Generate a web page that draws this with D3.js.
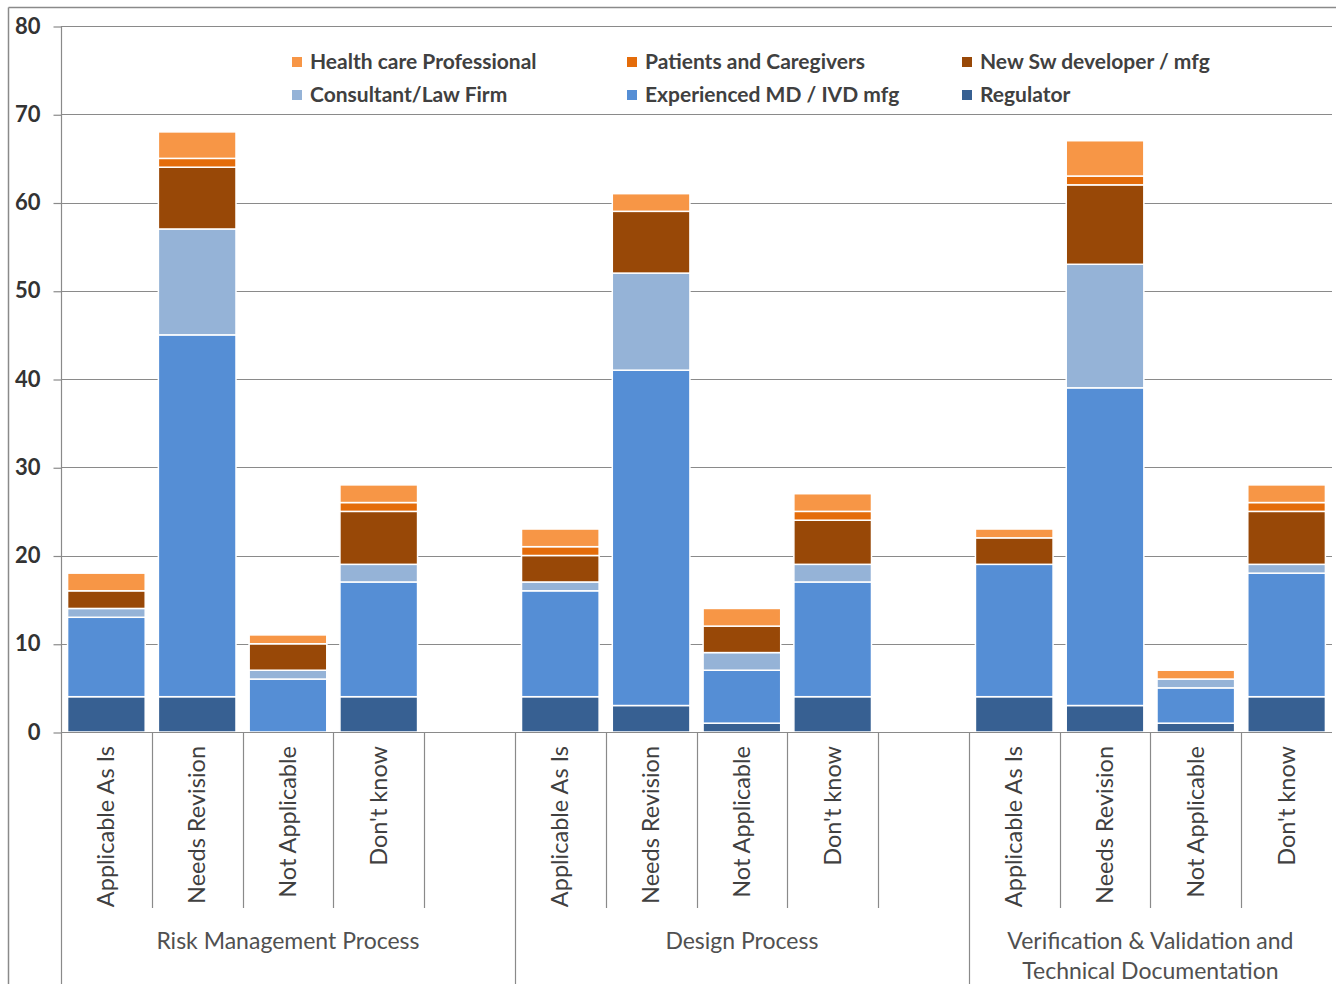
<!DOCTYPE html>
<html>
<head>
<meta charset="utf-8">
<script src="https://cdn.jsdelivr.net/npm/d3@7"></script>
<style>
  html, body { margin: 0; padding: 0; background: #fff; }
  svg { display: block; }
</style>
</head>
<body>
<svg id="chart" width="1336" height="984"></svg>
<script>
// ---- data ----
const groups = ["Risk Management Process", "Design Process", "Verification & Validation and|Technical Documentation"];
const responses = ["Applicable As Is", "Needs Revision", "Not Applicable", "Don't know"];
const seriesNames = ["Regulator", "Experienced MD / IVD mfg", "Consultant/Law Firm", "New Sw developer / mfg", "Patients and Caregivers", "Health care Professional"];
const regulator   = [4, 4, 0, 4,   4, 3, 1, 4,   4, 3, 1, 4];
const experienced = [9, 41, 6, 13, 12, 38, 6, 13, 15, 36, 4, 14];
const consultant  = [1, 12, 1, 2,  1, 11, 2, 2,  0, 14, 1, 1];
const newSw       = [2, 7, 3, 6,   3, 7, 3, 5,   3, 9, 0, 6];
const patients    = [0, 1, 0, 1,   1, 0, 0, 1,   0, 1, 0, 1];
const hcp         = [2, 3, 1, 2,   2, 2, 2, 2,   1, 4, 1, 2];
const yTicks = [0, 10, 20, 30, 40, 50, 60, 70, 80];
const legendOrder = ["Health care Professional", "Patients and Caregivers", "New Sw developer / mfg",
                     "Consultant/Law Firm", "Experienced MD / IVD mfg", "Regulator"];
const colors = ["#376092", "#558ED5", "#95B3D7", "#984807", "#E46C0A", "#F79646"];

(function () {
// ---- build table ----
const seriesValues = [regulator, experienced, consultant, newSw, patients, hcp];
const rows = [];
groups.forEach((g, gi) => {
  responses.forEach((r, ri) => {
    const row = { key: gi + "-" + ri, group: gi, response: r };
    seriesNames.forEach((s, si) => { row[s] = seriesValues[si][gi * responses.length + ri]; });
    rows.push(row);
  });
});
// slot keys: 4 responses + blank slot for first two groups
const slots = [];
groups.forEach((g, gi) => {
  responses.forEach((r, ri) => slots.push(gi + "-" + ri));
  if (gi < groups.length - 1) slots.push(gi + "-blank");
});

const svg = d3.select("#chart");
const pLeft = 61, pRight = 1332, pTop = 26, pBottom = 732;
const x = d3.scaleBand().domain(slots).range([pLeft, pRight]).paddingInner(0).paddingOuter(0);
const y = d3.scaleLinear().domain([0, 80]).range([pBottom, pTop]);
const color = d3.scaleOrdinal().domain(seriesNames).range(colors);
const gridColor = "#8a8a8a";

// outer border
svg.append("line").attr("x1", 8.5).attr("x2", 1336).attr("y1", 7.5).attr("y2", 7.5)
  .attr("stroke", "#8a8a8a").attr("stroke-width", 1.5);
svg.append("line").attr("x1", 8.5).attr("x2", 8.5).attr("y1", 7.5).attr("y2", 984)
  .attr("stroke", "#8a8a8a").attr("stroke-width", 1.5);

// gridlines
svg.append("g").selectAll("line").data(yTicks.filter(d => d > 0)).join("line")
  .attr("x1", pLeft).attr("x2", pRight)
  .attr("y1", d => Math.round(y(d)) + 0.5).attr("y2", d => Math.round(y(d)) + 0.5)
  .attr("stroke", gridColor).attr("stroke-width", 1.2);

// y axis
const yAxis = svg.append("g").attr("transform", `translate(${pLeft + 0.5},0)`)
  .call(d3.axisLeft(y).tickValues(yTicks).tickSize(8).tickPadding(13).tickFormat(d3.format("d")));
yAxis.select(".domain").attr("stroke", gridColor).attr("stroke-width", 1.2).attr("d", `M0,${pTop}V984`);
yAxis.selectAll(".tick line").attr("stroke", gridColor).attr("stroke-width", 1.2)
  .attr("transform", "translate(0,0.5)");
yAxis.selectAll(".tick text")
  .attr("font-family", "Lato, 'Open Sans', sans-serif").attr("font-weight", "bold")
  .attr("font-size", 22).attr("fill", "#333");

// bars
const stack = d3.stack().keys(seriesNames);
const stacked = stack(rows);
const barW = x.bandwidth() * 0.855;
svg.append("g").selectAll("g").data(stacked).join("g")
  .attr("fill", d => color(d.key))
  .selectAll("rect").data(d => d.filter(p => p[1] > p[0])).join("rect")
  .attr("x", d => x(d.data.key) + (x.bandwidth() - barW) / 2)
  .attr("width", barW)
  .attr("y", d => y(d[1]))
  .attr("height", d => y(d[0]) - y(d[1]))
  .attr("stroke", "#fff").attr("stroke-width", 1.5);

// baseline (x axis line)
svg.append("line").attr("x1", pLeft).attr("x2", pRight)
  .attr("y1", Math.round(y(0)) + 0.5).attr("y2", Math.round(y(0)) + 0.5)
  .attr("stroke", gridColor).attr("stroke-width", 1.2);

// category separators
const sepG = svg.append("g");
slots.forEach((s, i) => {
  if (i === 0) return;
  const xx = Math.round(x(s)) + 0.5;
  const isGroupEdge = s.endsWith("-0");
  sepG.append("line").attr("x1", xx).attr("x2", xx)
    .attr("y1", y(0)).attr("y2", isGroupEdge ? 984 : 908)
    .attr("stroke", gridColor).attr("stroke-width", 1.2);
});

// category labels
svg.append("g").selectAll("text").data(rows).join("text")
  .attr("transform", d => `translate(${x(d.key) + x.bandwidth() / 2 + 8},746) rotate(-90)`)
  .attr("text-anchor", "end")
  .attr("font-family", "Lato, 'Open Sans', sans-serif")
  .attr("font-size", 23.5).attr("fill", "#404040")
  .text(d => d.response);

// group labels
groups.forEach((g, gi) => {
  const firstX = x(gi + "-0");
  const lastKey = gi < groups.length - 1 ? gi + "-blank" : gi + "-3";
  const lastX = x(lastKey) + x.bandwidth();
  const cx = (firstX + lastX) / 2;
  const lines = g.split("|");
  lines.forEach((ln, li) => {
    svg.append("text").attr("x", cx).attr("y", 949 + li * 30)
      .attr("text-anchor", "middle")
      .attr("font-family", "Lato, 'Open Sans', sans-serif")
      .attr("font-size", 23).attr("fill", "#505050")
      .text(ln);
  });
});

// legend
const legendCols = [292, 627, 962];
const legendRows = [62, 95];
const lg = svg.append("g");
legendOrder.forEach((name, i) => {
  const cx = legendCols[i % 3], cy = legendRows[Math.floor(i / 3)];
  lg.append("rect").attr("x", cx).attr("y", cy - 5).attr("width", 10).attr("height", 10)
    .attr("fill", color(name));
  lg.append("text").attr("x", cx + 18).attr("y", cy + 7)
    .attr("font-family", "Lato, 'Open Sans', sans-serif").attr("font-weight", "bold")
    .attr("font-size", 21).attr("fill", "#404040")
    .text(name);
});
})();
</script>
</body>
</html>
